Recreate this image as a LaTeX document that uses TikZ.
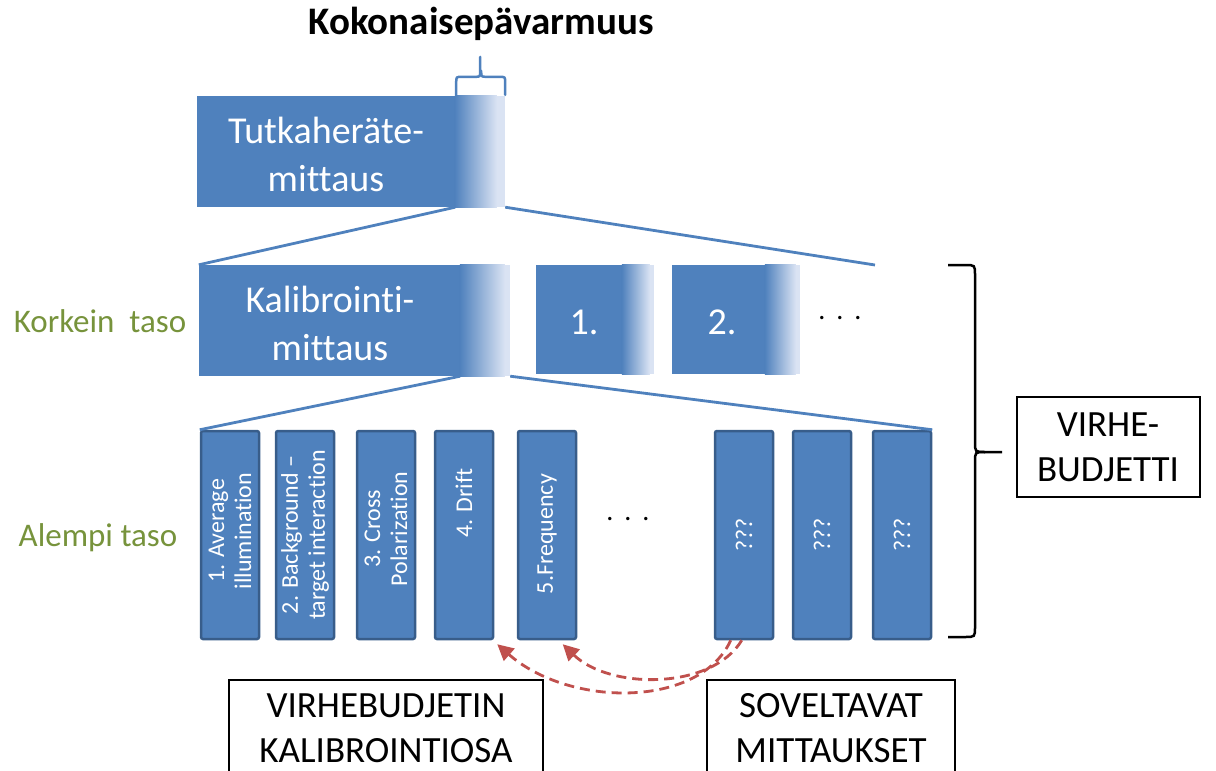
\documentclass[tikz,border=0pt]{standalone}
\usepackage{fontspec}
\setmainfont{Carlito}[Ligatures=NoCommon]
\usetikzlibrary{arrows.meta,calc}
\definecolor{mblue}{HTML}{4F81BD}
\definecolor{mlight}{HTML}{DAE3F3}
\definecolor{mborder}{HTML}{385D8A}
\definecolor{mgreen}{HTML}{77933C}
\definecolor{mred}{HTML}{C0504D}
\newcommand{\gfill}[3]{%
  \fill[mblue] (#1.north west) rectangle ($(#1.south west)+(#2,0)$);
  \shade[left color=mblue,right color=mlight] ($(#1.north west)+(#2,0)$) rectangle ($(#1.south west)+(#3,0)$);
  \fill[mlight] ($(#1.north west)+(#3,0)$) rectangle (#1.south east);}
\tikzset{
  areabox/.style={inner sep=0pt,minimum height=111pt},
  boxtext/.style={text=white,align=center,font=\fontsize{38}{48}\selectfont},
  lowbox/.style={draw=mborder,line width=2.5pt,fill=mblue,rounded corners=2pt,minimum width=58pt,minimum height=208pt,inner sep=0pt},
  rottext/.style={rotate=90,text=white,align=center,font=\fontsize{24}{27}\selectfont},
  conn/.style={draw=mblue,line width=2.8pt},
  levellabel/.style={text=mgreen,font=\fontsize{33}{38}\selectfont},
  blackbox/.style={draw=black,line width=2pt,inner sep=0pt},
  blacktext/.style={align=center,font=\fontsize{37}{45}\selectfont},
  rarrow/.style={draw=mred,line width=2.8pt,dash pattern=on 10pt off 6pt,-{Triangle[length=16pt,width=16pt]}},
  dots/.style={font=\fontsize{28}{30}\selectfont}
}
\begin{document}
\begin{tikzpicture}[x=1pt,y=-1pt]
\useasboundingbox (0,0) rectangle (1216,771);
\clip (0,0) rectangle (1216,771);
% title
\node[font=\bfseries\fontsize{39}{44}\selectfont] (title) at (481,24) {Kokonaisepävarmuus};
% top box
\node[areabox,minimum width=308pt] (tut) at (351,151.5) {};
\gfill{tut}{258}{300}
\node[boxtext] (tutT) at (326,154) {Tutkaheräte-\\mittaus};
% blue brace
\coordinate (brL) at ($(tut.north east)+(-49,-1)$);
\coordinate (brR) at ($(tut.north east)+(0,-1)$);
\draw[mblue,line width=2.5pt,line cap=round] (brL) -- ++(0,-12) .. controls ++(0,-6) .. ++(6,-6) -- ++(13,0) .. controls ++(5,0) .. ++(5,-6) -- ++(0,-14);
\draw[mblue,line width=2.5pt,line cap=round] (brR) -- ++(0,-12) .. controls ++(0,-6) .. ++(-6,-6) -- ++(-13,0) .. controls ++(-5,0) .. ++(-5,-6);
% upper level
\node[areabox,minimum width=311pt] (kal) at (354.5,320.5) {};
\gfill{kal}{261}{306}
\node[boxtext] (kalT) at (330,323) {Kalibrointi-\\mittaus};
\node[areabox,minimum width=118pt,minimum height=109pt] (u1) at (595,319.5) {};
\gfill{u1}{86}{114}
\node[boxtext] (u1T) at (584,322) {1.};
\node[areabox,minimum width=128pt,minimum height=109pt] (u2) at (736,319.5) {};
\gfill{u2}{93}{124}
\node[boxtext] (u2T) at (722,322) {2.};
\node[dots] (udots) at (840,318) {.\hspace{11pt}.\hspace{11pt}.};
\coordinate (uright) at (875,265);
\draw[conn] ($(tut.south east)+(-50,0)$) -- (kal.north west);
\draw[conn] (tut.south east) -- (uright);
% lower level
\node[lowbox] (b1) at (230,535) {};
\node[lowbox] (b2) at (305,535) {};
\node[lowbox] (b3) at (386,535) {};
\node[lowbox] (b4) at (464,535) {};
\node[lowbox] (b5) at (547,535) {};
\node[lowbox] (b6) at (744,535) {};
\node[lowbox] (b7) at (822,535) {};
\node[lowbox] (b8) at (902,535) {};
\node[rottext] (t1) at ($(b1)+(0,-4)$) {1. Average\\illumination};
\node[rottext] (t2) at (b2) {2. Background –\\target interaction};
\node[rottext] (t3) at ($(b3)+(0,-6)$) {3. Cross\\Polarization};
\node[rottext] (t4) at ($(b4)+(0,-32)$) {4. Drift};
\node[rottext] (t5) at ($(b5)+(0,-1)$) {5.Frequency};
\node[rottext] (t6) at (b6) {???};
\node[rottext] (t7) at (b7) {???};
\node[rottext] (t8) at (b8) {???};
\node[dots] (ldots) at (628,519) {.\hspace{11pt}.\hspace{11pt}.};
\draw[conn] ($(kal.south east)+(-50,0)$) -- (b1.north west);
\draw[conn] (kal.south east) -- (b8.north east);
% level labels
\node[levellabel] (lk) at (100,321) {Korkein\ \ taso};
\node[levellabel] (la) at (98,538) {Alempi taso};
% right brace
\coordinate (rbT) at (948,265);
\coordinate (rbB) at (948,637);
\coordinate (rbTip) at (1002,452);
\draw[black,line width=2.5pt] (rbT) -- ++(17,0) .. controls ++(10,0) .. ++(10,10) -- (975,442) .. controls (975,452) .. (985,452) -- (rbTip);
\draw[black,line width=2.5pt] (rbB) -- ++(17,0) .. controls ++(10,0) .. ++(10,-10) -- (975,462) .. controls (975,452) .. (985,452);
\node[blackbox,minimum width=183pt,minimum height=100pt] (vb) at (1108,447) {};
\node[blacktext] (vbT) at (vb) {VIRHE-\\BUDJETTI};
% bottom boxes
\node[blackbox,minimum width=314pt,minimum height=140pt] (kb) at (386,750) {};
\node[blacktext] (kbT) at (386,728) {VIRHEBUDJETIN\\KALIBROINTIOSA};
\node[blackbox,minimum width=248pt,minimum height=140pt] (sb) at (831,750) {};
\node[blacktext] (sbT) at (831,728) {SOVELTAVAT\\MITTAUKSET};
% arrows
\draw[rarrow] ($(b6.south west)+(17,0)$) .. controls (700,708) and (570,708) .. ($(b4.south east)+(3,4)$);
\draw[rarrow] ($(b6.south west)+(28,0)$) .. controls (712,690) and (610,690) .. ($(b5.south west)+(46,4)$);
\end{tikzpicture}
\end{document}
